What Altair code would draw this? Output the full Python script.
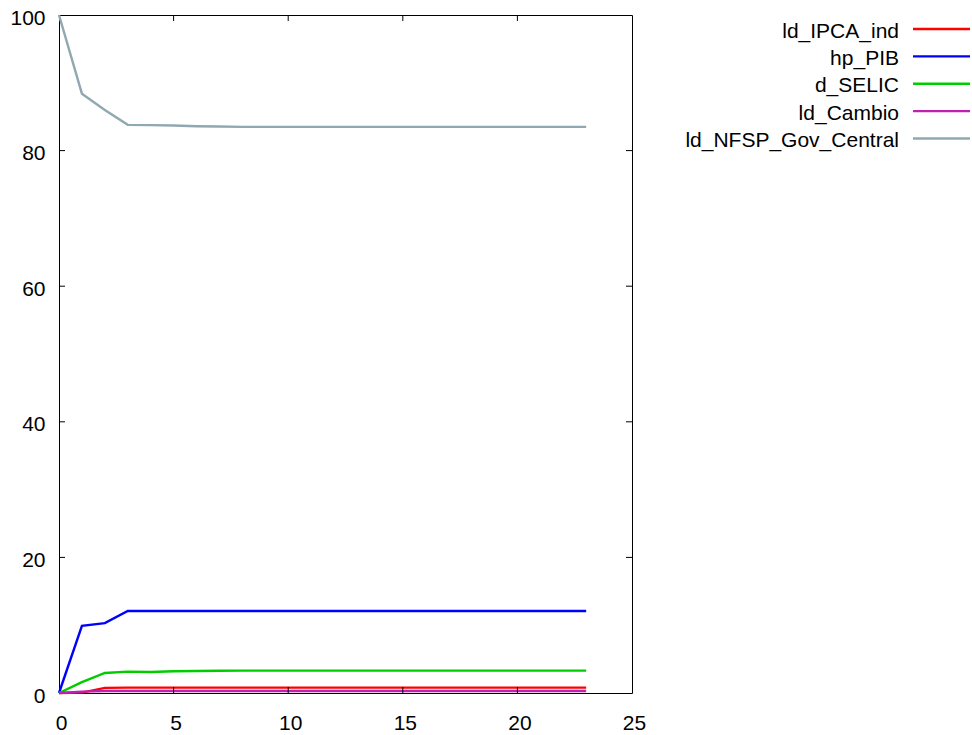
import altair as alt
import pandas as pd

periods = list(range(24))
series_names = ["ld_IPCA_ind", "hp_PIB", "d_SELIC", "ld_Cambio", "ld_NFSP_Gov_Central"]
series_colors = ["#ff0000", "#0000ff", "#00cc00", "#c020b0", "#90a8b0"]

ipca = [0, 0.05, 0.75, 0.8] + [0.8] * 20
pib = [0, 9.9, 10.3, 12.1] + [12.1] * 20
selic = [0, 1.6, 2.95, 3.15, 3.1, 3.2, 3.25, 3.28] + [3.3] * 16
cambio = [0, 0.2, 0.3, 0.3] + [0.3] * 20
nfsp = [100, 88.4, 86.0, 83.8, 83.75, 83.7, 83.6, 83.55] + [83.5] * 16

x_ticks = [5, 10, 15, 20]
y_ticks = [20, 40, 60, 80]
x_labels = [0, 5, 10, 15, 20, 25]
y_labels = [0, 20, 40, 60, 80, 100]

W, H = 573, 678
FONT = "Liberation Sans"
FS = 21

rows = []
for name, vals in zip(series_names, [ipca, pib, selic, cambio, nfsp]):
    for p, v in zip(periods, vals):
        rows.append({"period": p, "value": v, "series": name})
df = pd.DataFrame(rows)
df["order"] = df["series"].map({n: i for i, n in enumerate(series_names)})

xscale = alt.Scale(domain=[0, 25], nice=False, zero=False)
yscale = alt.Scale(domain=[0, 100], nice=False)
cscale = alt.Scale(domain=series_names, range=series_colors)

lines = alt.Chart(df).mark_line(strokeWidth=2.4).encode(
    x=alt.X("period:Q", scale=xscale,
            axis=alt.Axis(values=x_labels, title=None, grid=False, domain=False,
                          ticks=False, tickSize=0, labelPadding=19, labelFont=FONT,
                          labelFontSize=FS, labelColor="black", labelFlush=False,
                          labelOffset=2)),
    y=alt.Y("value:Q", scale=yscale,
            axis=alt.Axis(values=y_labels, title=None, grid=False, domain=False,
                          ticks=False, tickSize=0, labelPadding=14, labelFont=FONT,
                          labelFontSize=FS, labelColor="black", labelFlush=False,
                          labelOffset=3)),
    color=alt.Color("series:N", scale=cscale, legend=None),
    detail="order:O",
)

xt = pd.DataFrame({"t": x_ticks})
yt = pd.DataFrame({"t": y_ticks})

xtick_bottom = alt.Chart(xt).mark_rule(color="black", strokeWidth=1).encode(
    x=alt.X("t:Q", scale=xscale), y=alt.value(H), y2=alt.value(H - 6))
xtick_top = alt.Chart(xt).mark_rule(color="black", strokeWidth=1).encode(
    x=alt.X("t:Q", scale=xscale), y=alt.value(0), y2=alt.value(6))
ytick_left = alt.Chart(yt).mark_rule(color="black", strokeWidth=1).encode(
    y=alt.Y("t:Q", scale=yscale), x=alt.value(0), x2=alt.value(6))
ytick_right = alt.Chart(yt).mark_rule(color="black", strokeWidth=1).encode(
    y=alt.Y("t:Q", scale=yscale), x=alt.value(W), x2=alt.value(W - 6))

main = alt.layer(lines, xtick_bottom, xtick_top, ytick_left, ytick_right)

leg_df = pd.DataFrame({"series": series_names})
leg_y = alt.Y("series:N", scale=alt.Scale(type="point", domain=series_names,
                                          range=[14, 123.5], padding=0), axis=None)
leg_text = alt.Chart(leg_df).mark_text(align="right", baseline="middle", font=FONT,
                                       fontSize=FS, color="black", dy=2.5).encode(
    y=leg_y, x=alt.value(840), text="series:N")
leg_rule = alt.Chart(leg_df).mark_rule(strokeWidth=2.4).encode(
    y=leg_y, x=alt.value(854), x2=alt.value(911),
    color=alt.Color("series:N", scale=cscale, legend=None))

legend = alt.layer(leg_text, leg_rule)

chart = alt.layer(main, legend).resolve_scale(y="independent").properties(
    width=W, height=H,
    autosize=alt.AutoSizeParams(type="none"),
    padding={"left": 59, "top": 15, "right": 340, "bottom": 42},
    background="white",
).configure_view(stroke="black", strokeWidth=1)

chart.save("out.html", embed_options={"renderer": "svg", "actions": False})
